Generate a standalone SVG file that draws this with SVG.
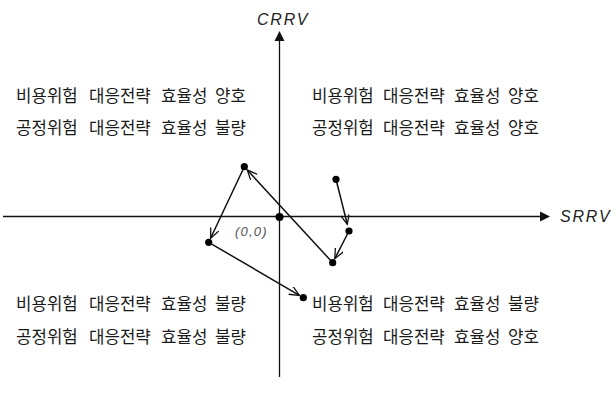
<svg xmlns="http://www.w3.org/2000/svg" width="616" height="406" viewBox="0 0 616 406">
<style>
.kr{font-family:"Noto Sans CJK KR","Noto Sans",sans-serif;font-size:16.8px;fill:#1a1a1a}
.ax{font-family:"Liberation Sans",Arial,sans-serif;font-style:italic;font-size:16px;fill:#222;letter-spacing:1.8px}
.org{font-family:"Liberation Sans",Arial,sans-serif;font-style:italic;font-size:13px;fill:#555;letter-spacing:1.2px}
.axis{stroke:#111;stroke-width:1.3;fill:none}
.link{stroke:#111;stroke-width:1.5;fill:none;marker-end:url(#open)}
.dot{fill:#000}
</style>
<defs>
<marker id="open" markerUnits="userSpaceOnUse" markerWidth="12" markerHeight="10" refX="10" refY="4.5" orient="auto">
<path d="M0,0 L10,4.5 L0,9" fill="none" stroke="#111" stroke-width="1.3"/>
</marker>
</defs>
<g id="axes">
<line class="axis" x1="3" y1="216.5" x2="542" y2="216.5"/>
<polygon points="550,216.5 540,211.5 540,221.5" fill="#111"/>
<line class="axis" x1="279.5" y1="40" x2="279.5" y2="377"/>
<polygon points="279.5,31 274.5,41 284.5,41" fill="#111"/>
<text class="ax" x="560" y="222">SRRV</text>
<text class="ax" x="257" y="25">CRRV</text>
</g>
<g id="quadrant-tl">
<text class="kr" y="102"><tspan x="16">비용위험</tspan><tspan x="89">대응전략</tspan><tspan x="161">효율성</tspan><tspan x="215">양호</tspan></text>
<text class="kr" y="133.5"><tspan x="16">공정위험</tspan><tspan x="89">대응전략</tspan><tspan x="161">효율성</tspan><tspan x="215">불량</tspan></text>
</g>
<g id="quadrant-tr">
<text class="kr" y="102"><tspan x="312">비용위험</tspan><tspan x="383">대응전략</tspan><tspan x="454">효율성</tspan><tspan x="508">양호</tspan></text>
<text class="kr" y="133.5"><tspan x="312">공정위험</tspan><tspan x="383">대응전략</tspan><tspan x="454">효율성</tspan><tspan x="508">양호</tspan></text>
</g>
<g id="quadrant-bl">
<text class="kr" y="310"><tspan x="16">비용위험</tspan><tspan x="89">대응전략</tspan><tspan x="161">효율성</tspan><tspan x="215">불량</tspan></text>
<text class="kr" y="343"><tspan x="16">공정위험</tspan><tspan x="89">대응전략</tspan><tspan x="161">효율성</tspan><tspan x="215">불량</tspan></text>
</g>
<g id="quadrant-br">
<text class="kr" y="310"><tspan x="312">비용위험</tspan><tspan x="383">대응전략</tspan><tspan x="454">효율성</tspan><tspan x="508">불량</tspan></text>
<text class="kr" y="343"><tspan x="312">공정위험</tspan><tspan x="383">대응전략</tspan><tspan x="454">효율성</tspan><tspan x="508">양호</tspan></text>
</g>
<g id="connectors">
<line class="link" x1="336" y1="179.3" x2="347.3" y2="224.2"/>
<line class="link" x1="349" y1="231" x2="334.8" y2="258.7"/>
<line class="link" x1="332.7" y1="262.7" x2="247.3" y2="170"/>
<line class="link" x1="244.3" y1="166.7" x2="210.6" y2="238.2"/>
<line class="link" x1="208.7" y1="242.3" x2="299.4" y2="295.4"/>
</g>
<g id="origin"><circle class="dot" cx="279.5" cy="217" r="4"/><text class="org" x="235" y="236">(0,0)</text></g>
<g id="p1"><circle class="dot" cx="244.3" cy="166.7" r="3.6"/></g>
<g id="p2"><circle class="dot" cx="336" cy="179.3" r="3.6"/></g>
<g id="p3"><circle class="dot" cx="349" cy="231" r="3.6"/></g>
<g id="p4"><circle class="dot" cx="208.7" cy="242.3" r="3.6"/></g>
<g id="p5"><circle class="dot" cx="332.7" cy="262.7" r="3.6"/></g>
<g id="p6"><circle class="dot" cx="303.3" cy="297.7" r="3.6"/></g>
</svg>
